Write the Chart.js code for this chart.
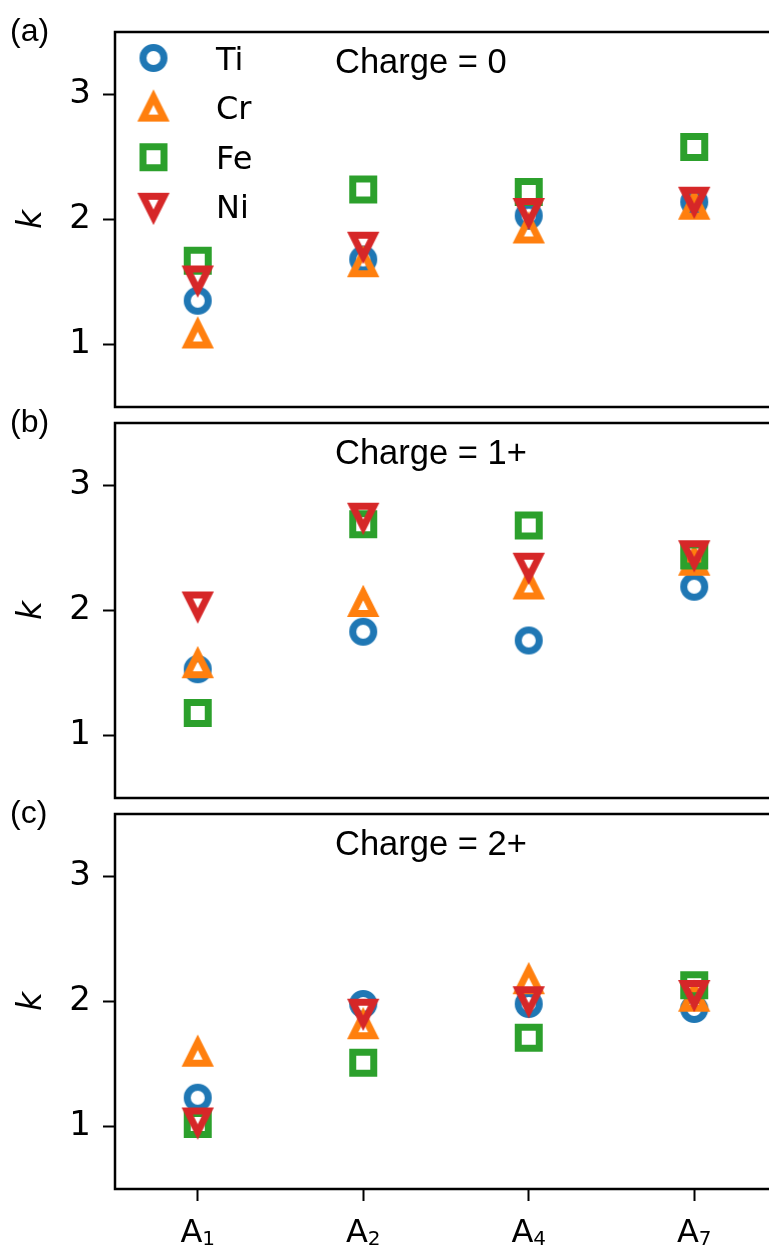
<!DOCTYPE html>
<html>
<head>
<meta charset="utf-8">
<script src="https://cdn.jsdelivr.net/npm/chart.js@4/dist/chart.umd.min.js"></script>
<style>
  html, body { margin: 0; padding: 0; background: #fff; overflow: hidden; }
  #fig { position: relative; width: 769px; height: 1246px; overflow: hidden; background: #fff; }
  #fig canvas { position: absolute; left: 0; }
</style>
</head>
<body>
<div id="fig">
  <canvas id="panelA" width="790" height="437" style="top:0px"></canvas>
  <canvas id="panelB" width="790" height="445" style="top:383px"></canvas>
  <canvas id="panelC" width="790" height="472" style="top:774px"></canvas>
</div>
<script>
// Doping sites (letter + subscript index) and dopant metals
const sites = ['A1', 'A2', 'A4', 'A7'];
const metals = ['Ti', 'Cr', 'Fe', 'Ni'];
const yTicks = [1, 2, 3];
const panelTags = ['(a)', '(b)', '(c)'];
const chargeTitles = ['Charge = 0', 'Charge = 1+', 'Charge = 2+'];

// k values at A1, A2, A4, A7 — neutral
const tiQ0 = [1.35, 1.68, 2.03, 2.14];
const crQ0 = [1.08, 1.65, 1.92, 2.11];
const feQ0 = [1.67, 2.24, 2.22, 2.58];
const niQ0 = [1.52, 1.79, 2.06, 2.15];

// charge 1+
const tiQ1 = [1.53, 1.83, 1.76, 2.19];
const crQ1 = [1.57, 2.06, 2.20, 2.39];
const feQ1 = [1.18, 2.69, 2.68, 2.44];
const niQ1 = [2.04, 2.75, 2.35, 2.45];

// charge 2+
const tiQ2 = [1.23, 1.98, 1.98, 1.94];
const crQ2 = [1.59, 1.81, 2.17, 2.03];
const feQ2 = [1.02, 1.51, 1.71, 2.13];
const niQ2 = [1.04, 1.91, 2.01, 2.06];

const colors = ['#1f77b4', '#ff7f0e', '#2ca02c', '#d62728'];
const shapes = ['circle', 'up', 'square', 'down'];

// open marker glyphs (matplotlib-like: same nominal size, miter joins)
const MSIZE = 21, MEDGE = 7;
function makeMarker(kind, color) {
  const c = document.createElement('canvas');
  c.width = 44; c.height = 44;
  const g = c.getContext('2d');
  g.translate(22, 22);
  g.strokeStyle = color;
  g.lineWidth = MEDGE;
  g.lineJoin = 'miter';
  g.miterLimit = 10;
  const h = MSIZE / 2;
  g.beginPath();
  if (kind === 'circle') {
    g.arc(0, 0, h, 0, Math.PI * 2);
  } else if (kind === 'square') {
    g.rect(-h, -h, MSIZE, MSIZE);
  } else if (kind === 'up') {
    g.moveTo(0, -h); g.lineTo(-h, h); g.lineTo(h, h); g.closePath();
  } else {
    g.moveTo(0, h); g.lineTo(-h, -h); g.lineTo(h, -h); g.closePath();
  }
  g.stroke();
  return c;
}
const markers = metals.map((m, i) => makeMarker(shapes[i], colors[i]));

Chart.defaults.font.family = 'DejaVu Sans';
Chart.defaults.color = '#000';

// frame around the plotting area
const framePlugin = {
  id: 'frame',
  afterDraw(chart) {
    const {ctx, chartArea: a} = chart;
    ctx.save();
    ctx.strokeStyle = '#000';
    ctx.lineWidth = 2.5;
    ctx.strokeRect(a.left, a.top, a.right - a.left, a.bottom - a.top);
    ctx.restore();
  }
};

// category labels with the site index set as a subscript
const siteLabelPlugin = {
  id: 'siteLabels',
  afterDraw(chart, args, opts) {
    if (!opts.show) return;
    const {ctx} = chart;
    const xs = chart.scales.x;
    const y = chart.chartArea.bottom + 52.5;
    ctx.save();
    ctx.fillStyle = '#000';
    ctx.textBaseline = 'alphabetic';
    ctx.textAlign = 'left';
    xs.ticks.forEach((t, i) => {
      const label = xs.getLabelForValue(t.value);
      const base = label.charAt(0), sub = label.slice(1);
      ctx.font = '32px "DejaVu Sans"';
      const wb = ctx.measureText(base).width;
      ctx.font = '20px "DejaVu Sans"';
      const ws = ctx.measureText(sub).width;
      const x0 = xs.getPixelForTick(i) - (wb + ws) / 2;
      ctx.font = '32px "DejaVu Sans"';
      ctx.fillText(base, x0, y);
      ctx.font = '20px "DejaVu Sans"';
      ctx.fillText(sub, x0 + wb, y + 3.5);
    });
    ctx.restore();
  }
};

// panel tag, charge caption, and the legend on the first panel
const notesPlugin = {
  id: 'notes',
  afterDraw(chart, args, opts) {
    const {ctx, chartArea: a} = chart;
    ctx.save();
    ctx.fillStyle = '#000';
    ctx.textBaseline = 'alphabetic';
    ctx.textAlign = 'left';
    ctx.font = '32px "Liberation Sans"';
    ctx.fillText(opts.tag, 10, a.top + 9);
    ctx.font = '34.5px "Liberation Sans"';
    ctx.fillText(opts.caption, 335, a.top + 41);
    if (opts.legend) {
      ctx.font = '32px "DejaVu Sans"';
      chart.data.datasets.forEach((ds, i) => {
        const cy = a.top + 26 + 49.6 * i;
        const mk = ds.pointStyle;
        ctx.drawImage(mk, a.left + 38.5 - mk.width / 2, cy - mk.height / 2);
        ctx.fillText(ds.label, a.left + 101, cy + 11.5);
      });
    }
    ctx.restore();
  }
};

function makePanel(id, idx, series, withX, padTop, padBottom) {
  const datasets = metals.map((m, i) => ({
    label: m,
    data: series[i],
    pointStyle: markers[i],
    pointRadius: 12,
    showLine: false,
    order: metals.length - i,
    clip: false
  }));
  return new Chart(document.getElementById(id), {
    type: 'line',
    data: { labels: sites, datasets },
    plugins: [framePlugin, siteLabelPlugin, notesPlugin],
    options: {
      responsive: false,
      devicePixelRatio: 1,
      animation: false,
      events: [],
      layout: { padding: { left: 0, right: 13, top: padTop, bottom: padBottom } },
      plugins: {
        legend: { display: false },
        tooltip: { enabled: false },
        siteLabels: { show: withX },
        notes: { tag: panelTags[idx], caption: chargeTitles[idx], legend: idx === 0 }
      },
      scales: {
        x: {
          type: 'category',
          offset: true,
          display: withX,
          afterFit(s) { s.height = withX ? 57 : 0; s.paddingLeft = 0; s.paddingRight = 0; },
          ticks: { display: false, autoSkip: false },
          grid: { display: true, drawOnChartArea: false, drawTicks: true, offset: false,
                  tickLength: 12, tickWidth: 2, tickColor: '#000' },
          border: { display: false }
        },
        y: {
          min: 0.5,
          max: 3.5,
          afterBuildTicks(s) { s.ticks = yTicks.map(v => ({ value: v })); },
          afterFit(s) { s.width = 115; s.paddingTop = 0; s.paddingBottom = 0; },
          ticks: { color: '#000', font: { size: 34 }, padding: 12 },
          grid: { display: true, drawOnChartArea: false, drawTicks: true,
                  tickLength: 12, tickWidth: 2, tickColor: '#000' },
          border: { display: false },
          title: { display: true, text: 'k', color: '#000',
                   font: { size: 33, style: 'italic', lineHeight: 1 },
                   padding: { top: 16, bottom: 0 } }
        }
      }
    }
  });
}

makePanel('panelA', 0, [tiQ0, crQ0, feQ0, niQ0], false, 32, 30);
makePanel('panelB', 1, [tiQ1, crQ1, feQ1, niQ1], false, 40, 30);
makePanel('panelC', 2, [tiQ2, crQ2, feQ2, niQ2], true, 40, 0);
</script>
</body>
</html>
